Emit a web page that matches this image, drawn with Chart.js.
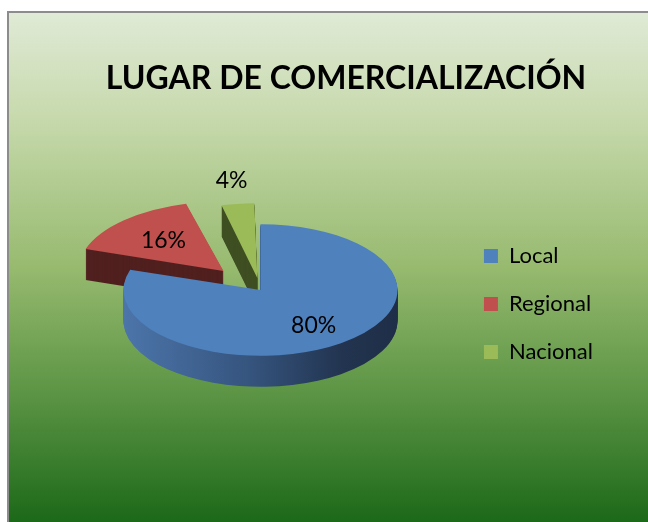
<!DOCTYPE html>
<html>
<head>
<meta charset="utf-8">
<script src="https://cdn.jsdelivr.net/npm/chart.js@4/dist/chart.umd.min.js"></script>
<style>
  html, body { margin: 0; padding: 0; background: #fff; }
  #wrap { width: 648px; height: 522px; }
</style>
</head>
<body>
<div id="wrap"><canvas id="myChart" width="648" height="522"></canvas></div>
<script>
// chart data
const titulo = 'LUGAR DE COMERCIALIZACIÓN';
const categorias = ['Local', 'Regional', 'Nacional'];
const porcentajes = [80, 16, 4];
// chart data

const colores = ['#4f81bd', '#c0504d', '#9bbb59'];
const separacion = [0, 54, 25];     // how far each slice is pulled out (px)
const tilt = 0.48;
const depth = 31;
const labelFactor = [0.66, 0.64, 1.5];

// background with the green gradient, grey frame and the title
const fondo = {
  id: 'fondo',
  beforeDraw(chart) {
    const ctx = chart.ctx;
    const g = ctx.createLinearGradient(0, 12, 0, 522);
    g.addColorStop(0, '#e0ead6');
    g.addColorStop(0.2, '#c8daae');
    g.addColorStop(0.5, '#97ba6f');
    g.addColorStop(0.75, '#5b9444');
    g.addColorStop(1, '#1c6919');
    ctx.save();
    ctx.fillStyle = g;
    ctx.fillRect(8, 12, 640, 510);
    ctx.strokeStyle = '#8c8c8c';
    ctx.lineWidth = 2;
    ctx.beginPath();
    ctx.moveTo(8, 522);
    ctx.lineTo(8, 12);
    ctx.lineTo(648, 12);
    ctx.stroke();

    ctx.fillStyle = '#000';
    ctx.font = 'bold 32px Lato';
    ctx.textAlign = 'center';
    ctx.textBaseline = 'alphabetic';
    ctx.fillText(titulo, 346, 89);
    ctx.restore();
  }
};

function sideFill(ctx, i, arc) {
  if (i === 0) {
    const g = ctx.createLinearGradient(arc.x - arc.outerRadius, 0, arc.x + arc.outerRadius, 0);
    g.addColorStop(0, '#4c75aa');
    g.addColorStop(0.45, '#36557f');
    g.addColorStop(0.8, '#22344f');
    g.addColorStop(1, '#1f2e48');
    return g;
  }
  if (i === 1) return '#50201f';
  return '#3f4f22';
}

// tilted pie with depth
const pie3d = {
  id: 'pie3d',
  beforeDatasetsDraw(chart) {
    const ctx = chart.ctx;
    const meta = chart.getDatasetMeta(0);
    const order = [1, 2, 0];
    order.forEach(i => {
      const arc = meta.data[i];
      const cx = arc.x, cy = arc.y;
      const color = arc.options.backgroundColor;
      arc.options.backgroundColor = sideFill(ctx, i, arc);
      for (let d = depth; d >= 1; d--) {
        ctx.save();
        ctx.translate(0, d);
        ctx.translate(cx, cy);
        ctx.scale(1, tilt);
        ctx.translate(-cx, -cy);
        arc.draw(ctx);
        ctx.restore();
      }
      arc.options.backgroundColor = color;
      ctx.save();
      ctx.translate(cx, cy);
      ctx.scale(1, tilt);
      ctx.translate(-cx, -cy);
      arc.draw(ctx);
      ctx.restore();
    });
    return false;
  },
  afterDraw(chart) {
    const ctx = chart.ctx;
    const meta = chart.getDatasetMeta(0);
    ctx.save();
    ctx.font = '23px Lato';
    ctx.fillStyle = '#000';
    ctx.textAlign = 'center';
    ctx.textBaseline = 'middle';
    meta.data.forEach((arc, i) => {
      const mid = (arc.startAngle + arc.endAngle) / 2;
      // chart.js moves a slice by offset / 4
      const r = (arc.options.offset || 0) / 4 + labelFactor[i] * arc.outerRadius;
      const x = arc.x + Math.cos(mid) * r;
      const y = arc.y + Math.sin(mid) * r * tilt;
      ctx.fillText(porcentajes[i] + '%', x, y);
    });
    ctx.restore();
  }
};

const ctx = document.getElementById('myChart').getContext('2d');
const myChart = new Chart(ctx, {
  type: 'pie',
  data: {
    labels: categorias,
    datasets: [{
      data: porcentajes,
      backgroundColor: colores,
      borderWidth: 0,
      offset: separacion.map(v => v * 4),
      hoverOffset: 0
    }]
  },
  options: {
    responsive: false,
    animation: false,
    radius: 137,
    layout: {
      padding: { left: 63, right: 45, top: 100, bottom: 42 }
    },
    plugins: {
      title: { display: false },
      legend: {
        position: 'right',
        title: { display: true, text: '', font: { size: 10 }, padding: { top: 0, bottom: 16 } },
        labels: {
          color: '#000',
          font: { family: 'Lato', size: 22 },
          boxWidth: 14,
          boxHeight: 14,
          padding: 26
        }
      },
      tooltip: { enabled: false }
    }
  },
  plugins: [fondo, pie3d]
});
</script>
</body>
</html>
